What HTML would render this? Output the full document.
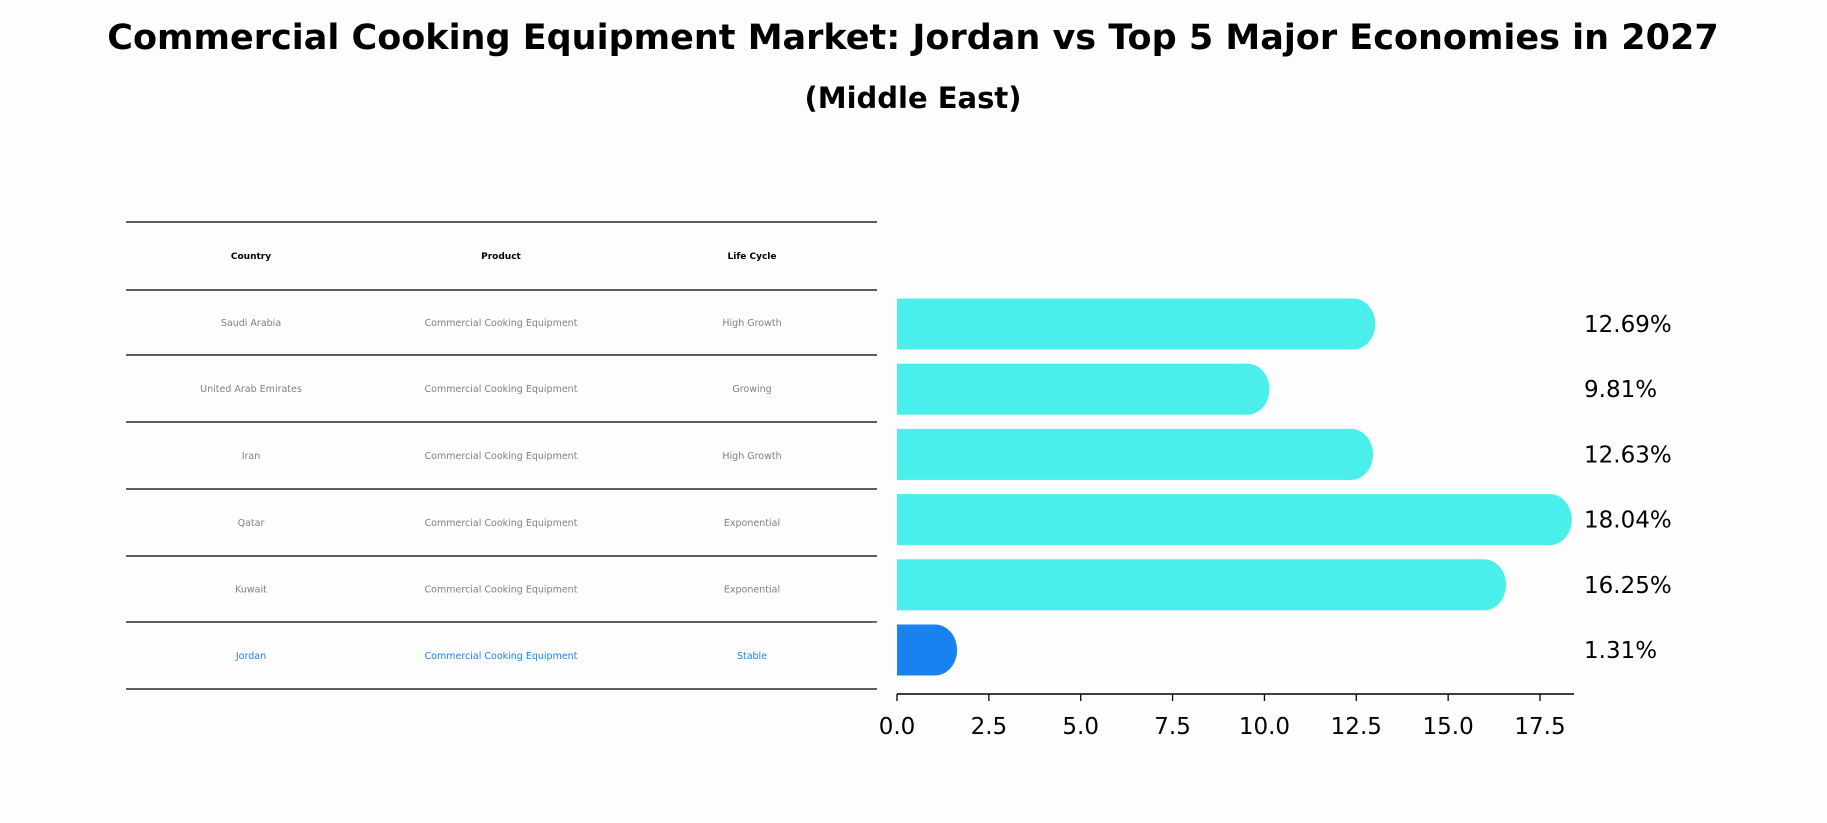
<!DOCTYPE html>
<html><head><meta charset="utf-8"><style>
html,body{margin:0;padding:0;background:#fdfdfd;}
svg{display:block;font-family:"DejaVu Sans","Liberation Sans",sans-serif;}
</style></head><body>
<svg id="chart" width="1827" height="823" viewBox="0 0 1827 823">
<rect width="1827" height="823" fill="#fdfdfd"/>
<text x="913" y="49" text-anchor="middle" font-size="35" font-weight="bold">Commercial Cooking Equipment Market: Jordan vs Top 5 Major Economies in 2027</text>
<text x="913" y="108" text-anchor="middle" font-size="29" font-weight="bold">(Middle East)</text>
<g id="table"></g>
<g id="bars"></g>
</svg>
<script>
const countries=["Saudi Arabia","United Arab Emirates","Iran","Qatar","Kuwait","Jordan"];
const products=["Commercial Cooking Equipment","Commercial Cooking Equipment","Commercial Cooking Equipment","Commercial Cooking Equipment","Commercial Cooking Equipment","Commercial Cooking Equipment"];
const lifeCycles=["High Growth","Growing","High Growth","Exponential","Exponential","Stable"];
const values=[12.69,9.81,12.63,18.04,16.25,1.31];
const ticks=[0,2.5,5,7.5,10,12.5,15,17.5];
const NS="http://www.w3.org/2000/svg";
function mk(tag,attrs,parent){const e=document.createElementNS(NS,tag);for(const k in attrs)e.setAttribute(k,attrs[k]);parent.appendChild(e);return e;}
const table=document.getElementById('table');
const lineYs=[222,290,355,422,489,556,622,689];
lineYs.forEach((y,i)=>{const l=mk('line',{x1:126,x2:877,y1:y,y2:y,stroke:'#000','stroke-width':1.3},table);

});
const colX=[251,501,752];
const heads=["Country","Product","Life Cycle"];
heads.forEach((h,i)=>{const t=mk('text',{x:colX[i],y:259,'text-anchor':'middle','font-size':9,'font-weight':'bold'},table);t.textContent=h;

});
countries.forEach((c,i)=>{const y=(lineYs[i+1]+lineYs[i+2])/2+3.5;const col=i===5?'#1a82f0':'#808080';
[c,products[i],lifeCycles[i]].forEach((v,j)=>{const t=mk('text',{x:colX[j],y:y,'text-anchor':'middle','font-size':9.5,fill:col},table);t.textContent=v;

});});
const bars=document.getElementById('bars');
const x0=897,scale=(1540-897)/17.5;
const xs=v=>x0+v*scale;
const yC=i=>324+i*65.2;
const bh=51;
values.forEach((v,i)=>{const col=i===5?'#1a82f0':'#4aeeea';const xe=xs(v);const cy=yC(i);
const g=mk('g',{},bars);


mk('rect',{x:x0,y:cy-bh/2,width:Math.max(0,xe-x0-10),height:bh,fill:col},g);
mk('ellipse',{cx:Math.max(x0+10,xe-10),cy:cy,rx:22,ry:bh/2,fill:col},g);
const t=mk('text',{x:1584,y:cy+8,'font-size':23},bars);t.textContent=v.toFixed(2)+'%';

});
mk('rect',{x:x0-25,y:yC(5)-bh/2-2,width:25,height:bh+4,fill:'#fdfdfd'},bars);
const ax=mk('line',{x1:x0,x2:1574,y1:694,y2:694,stroke:'#000','stroke-width':1.5},bars);


ticks.forEach(t=>{const x=xs(t);mk('line',{x1:x,x2:x,y1:694,y2:701,stroke:'#000','stroke-width':1.3},bars);
const tx=mk('text',{x:x,y:734,'text-anchor':'middle','font-size':23},bars);tx.textContent=t.toFixed(1);

});
</script>
</body></html>
